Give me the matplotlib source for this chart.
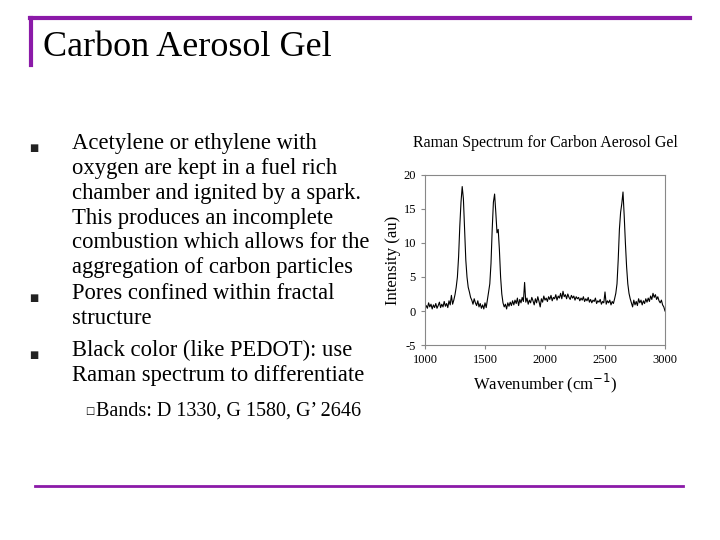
import matplotlib.pyplot as plt
from matplotlib.lines import Line2D

# spectrum values (wavenumber, intensity)
wavenumber = [1000, 1010, 1020, 1030, 1040, 1050, 1060, 1070, 1080, 1090, 1100, 1110, 1120, 1130, 1140,
              1150, 1160, 1170, 1180, 1190, 1200, 1210, 1220, 1230, 1240, 1250, 1260, 1270, 1280, 1290,
              1300, 1310, 1320, 1330, 1340, 1350, 1360, 1370, 1380, 1390, 1400, 1410, 1420, 1430, 1440,
              1450, 1460, 1470, 1480, 1490, 1500, 1510, 1520, 1530, 1540, 1550, 1560, 1570, 1580, 1590,
              1600, 1610, 1620, 1630, 1640, 1650, 1660, 1670, 1680, 1690, 1700, 1710, 1720, 1730, 1740,
              1750, 1760, 1770, 1780, 1790, 1800, 1810, 1820, 1830, 1840, 1850, 1860, 1870, 1880, 1890,
              1900, 1910, 1920, 1930, 1940, 1950, 1960, 1970, 1980, 1990, 2000, 2010, 2020, 2030, 2040,
              2050, 2060, 2070, 2080, 2090, 2100, 2110, 2120, 2130, 2140, 2150, 2160, 2170, 2180, 2190,
              2200, 2210, 2220, 2230, 2240, 2250, 2260, 2270, 2280, 2290, 2300, 2310, 2320, 2330, 2340,
              2350, 2360, 2370, 2380, 2390, 2400, 2410, 2420, 2430, 2440, 2450, 2460, 2470, 2480, 2490,
              2500, 2510, 2520, 2530, 2540, 2550, 2560, 2570, 2580, 2590, 2600, 2610, 2620, 2630, 2640,
              2650, 2660, 2670, 2680, 2690, 2700, 2710, 2720, 2730, 2740, 2750, 2760, 2770, 2780, 2790,
              2800, 2810, 2820, 2830, 2840, 2850, 2860, 2870, 2880, 2890, 2900, 2910, 2920, 2930, 2940,
              2950, 2960, 2970, 2980, 2990, 3000]
intensity = [0.3, 0.8, 0.4, 1.2, 0.6, 1.0, 0.3, 0.9, 0.5, 1.1, 0.4, 0.8, 1.3, 0.5, 1.0,
             0.6, 1.4, 0.7, 1.1, 0.5, 1.5, 0.9, 2.3, 1.0, 1.6, 2.4, 3.5, 5.0, 8.0, 12.5,
             16.0, 18.3, 16.5, 12.0, 7.5, 5.0, 3.5, 2.8, 2.0, 1.6, 1.0, 1.8, 1.2, 0.8, 1.5,
             0.6, 1.1, 0.4, 0.9, 0.3, 1.2, 0.5, 1.6, 2.8, 4.0, 7.0, 12.0, 16.0, 17.2, 14.5,
             11.5, 12.0, 9.0, 5.0, 2.5, 1.2, 0.6, 1.0, 0.3, 1.2, 0.7, 1.3, 0.8, 1.5, 0.9,
             1.6, 1.1, 1.9, 0.8, 1.7, 1.2, 2.0, 1.4, 4.2, 1.3, 1.9, 1.0, 1.6, 1.2, 2.0,
             1.5, 0.9, 1.8, 1.2, 2.1, 1.4, 0.6, 1.8, 1.3, 2.2, 1.6, 1.9, 1.4, 2.1, 1.7,
             2.3, 1.5, 2.0, 1.8, 2.4, 1.6, 2.2, 1.9, 2.6, 1.8, 2.9, 2.1, 2.4, 1.8, 2.5,
             2.0, 1.7, 2.3, 1.9, 2.2, 1.6, 2.1, 1.8, 2.0, 1.5, 1.9, 1.6, 2.1, 1.4, 1.8,
             1.5, 2.0, 1.3, 1.7, 1.2, 1.6, 1.4, 1.9, 1.1, 1.5, 1.3, 1.7, 1.0, 1.4, 1.2,
             2.8, 1.0, 1.5, 1.2, 1.6, 0.9, 1.4, 1.1, 1.8, 2.6, 4.0, 7.5, 12.0, 14.5, 15.8,
             17.5, 14.0, 10.0, 6.5, 4.0, 2.6, 1.8, 1.2, 0.6, 1.6, 0.9, 1.4, 0.8, 1.8, 1.2,
             1.6, 0.9, 1.5, 1.1, 1.8, 1.3, 1.9, 1.4, 2.2, 1.7, 2.6, 2.0, 2.4, 1.7, 2.1,
             1.5, 1.2, 1.6, 0.9, 0.6, 0.0]

title_text = "Carbon Aerosol Gel"
bullets = [
    "Acetylene or ethylene with\noxygen are kept in a fuel rich\nchamber and ignited by a spark.\n"
    "This produces an incomplete\ncombustion which allows for the\naggregation of carbon particles",
    "Pores confined within fractal\nstructure",
    "Black color (like PEDOT): use\nRaman spectrum to differentiate",
]
sub_bullet = "Bands: D 1330, G 1580, G\u2019 2646"

plt.rcParams['font.family'] = ['Liberation Serif', 'DejaVu Serif']
plt.rcParams['axes.unicode_minus'] = False
fig = plt.figure(figsize=(7.2, 5.4), dpi=100)
purple = '#8B1AA8'

# slide frame lines
fig.add_artist(Line2D([30/720, 690/720], [1-18/540, 1-18/540], color=purple, lw=3))
fig.add_artist(Line2D([31/720, 31/720], [1-18/540, 1-65/540], color=purple, lw=3))
fig.add_artist(Line2D([35/720, 683/720], [1-486/540, 1-486/540], color=purple, lw=2))

fig.text(43/720, 1-48/540, title_text, fontsize=26, va='center', ha='left')

# bullets
bullet_rows = [148, 298, 355]
for row, txt in zip(bullet_rows, bullets):
    fig.text(29/720, 1-row/540, "\u25A0", fontsize=7, va='center', ha='left',
             family='DejaVu Sans', color='#222222')
    fig.text(72/720, 1-(row-15)/540, txt, fontsize=16.3, va='top', ha='left', linespacing=1.24)
fig.text(85/720, 1-411/540, "\u25A1", fontsize=7, va='center', ha='left', family='DejaVu Sans')
fig.text(96/720, 1-411/540, sub_bullet, fontsize=14.5, va='center', ha='left')

# spectrum
ax = fig.add_axes([425/720, 1-345/540, 240/720, 170/540])
ax.plot(wavenumber, intensity, color='black', lw=0.8)
ax.set_xlim(1000, 3000)
ax.set_ylim(-5, 20)
ax.set_xticks([1000, 1500, 2000, 2500, 3000])
ax.set_yticks([-5, 0, 5, 10, 15, 20])
ax.tick_params(labelsize=9, length=3, color='#888888')
for s in ax.spines.values():
    s.set_color('#888888')
    s.set_linewidth(0.8)
ax.set_xlabel("Wavenumber (cm$^{-1}$)", fontsize=12)
ax.set_ylabel("Intensity (au)", fontsize=12, labelpad=2)
fig.text(545/720, 1-143/540, "Raman Spectrum for Carbon Aerosol Gel", fontsize=11.5,
         ha='center', va='center')

fig.savefig('out.png', dpi=100)
